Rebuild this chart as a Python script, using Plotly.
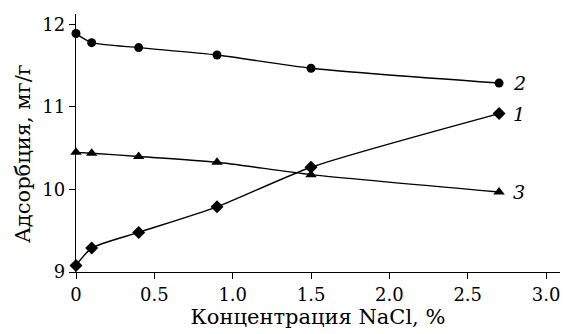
import plotly.graph_objects as go

x = [0, 0.1, 0.4, 0.9, 1.5, 2.7]
s1 = [9.08, 9.29, 9.48, 9.79, 10.27, 10.92]
s2 = [11.89, 11.78, 11.72, 11.63, 11.47, 11.29]
s3 = [10.45, 10.44, 10.40, 10.33, 10.18, 9.97]
labels = ["1", "2", "3"]

FONT = "DejaVu Serif"
fig = go.Figure()
for ys, sym, sz, lab in [(s1, "diamond", 10, labels[0]), (s2, "circle", 9, labels[1]), (s3, "triangle-up", 10, labels[2])]:
    fig.add_trace(go.Scatter(x=x, y=ys, mode="lines+markers",
                             line=dict(color="black", width=1.4, shape="spline", smoothing=0.6),
                             marker=dict(symbol=sym, size=sz, color="black"),
                             showlegend=False, cliponaxis=False))
    fig.add_annotation(x=x[-1], y=ys[-1], text="<i>" + lab + "</i>", showarrow=False,
                       xshift=20, font=dict(family=FONT, size=19, color="black"))

fig.add_annotation(xref="paper", yref="paper", x=-0.1095, y=0.457, text="Адсорбция, мг/г",
                   textangle=-90, showarrow=False, xanchor="center", yanchor="middle",
                   font=dict(family=FONT, size=21, color="black"))

fig.update_layout(
    width=563, height=334, paper_bgcolor="white", plot_bgcolor="white",
    margin=dict(l=76, r=3, t=14, b=62),
    font=dict(family=FONT, size=18, color="black"),
)
fig.update_xaxes(range=[0, 3.089], tickvals=[0, 0.5, 1.0, 1.5, 2.0, 2.5, 3.0],
                 ticktext=["0", "0.5", "1.0", "1.5", "2.0", "2.5", "3.0"],
                 showline=True, linecolor="black", linewidth=1.3, showgrid=False, zeroline=False,
                 ticks="outside", ticklen=6, tickcolor="black", tickwidth=1.3,
                 tickfont=dict(family=FONT, size=18),
                 title=dict(text="Концентрация NaCl, %", standoff=2, font=dict(family=FONT, size=21)))
fig.update_yaxes(range=[9, 12.127], tickvals=[9, 10, 11, 12],
                 showline=True, linecolor="black", linewidth=1.3, showgrid=False, zeroline=False,
                 ticks="outside", ticklen=6, tickcolor="black", tickwidth=1.3,
                 tickfont=dict(family=FONT, size=18))
fig.write_html("out.html")
